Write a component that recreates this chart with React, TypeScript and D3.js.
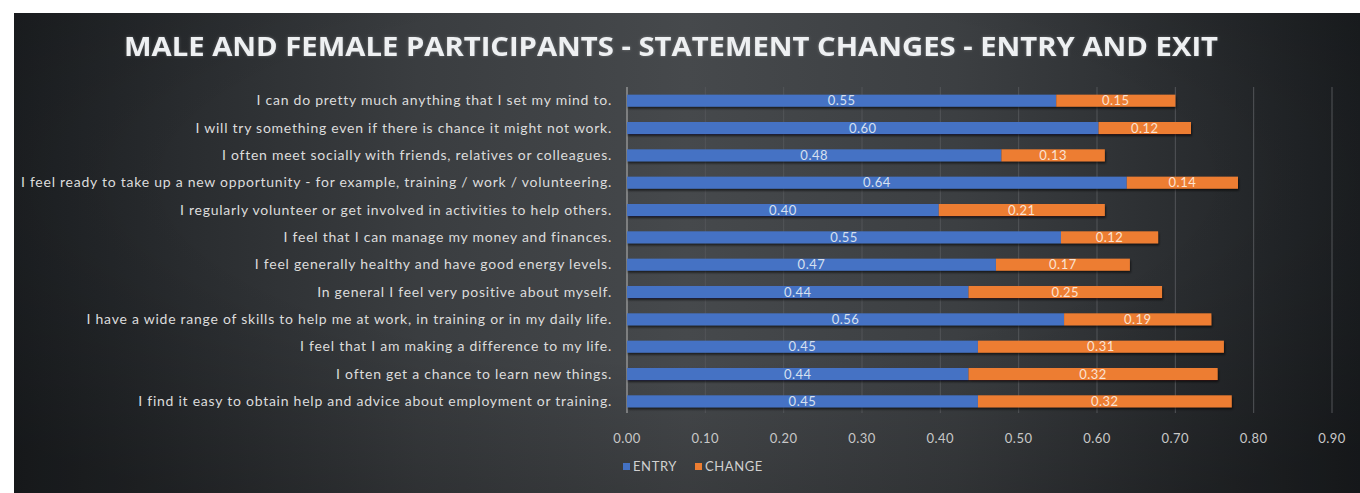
import React from "react";
import * as d3 from "d3";

const TITLE = "MALE AND FEMALE PARTICIPANTS - STATEMENT CHANGES - ENTRY AND EXIT";

const categories = [
  "I can do pretty much anything that I set my mind to.",
  "I will try something even if there is chance it might not work.",
  "I often meet socially with friends, relatives or colleagues.",
  "I feel ready to take up a new opportunity - for example, training / work / volunteering.",
  "I regularly volunteer or get involved in activities to help others.",
  "I feel that I can manage my money and finances.",
  "I feel generally healthy and have good energy levels.",
  "In general I feel very positive about myself.",
  "I have a wide range of skills to help me at work, in training or in my daily life.",
  "I feel that I am making a difference to my life.",
  "I often get a chance to learn new things.",
  "I find it easy to obtain help and advice about employment or training.",
];

const entryValues = [0.548, 0.602, 0.478, 0.638, 0.398, 0.554, 0.471, 0.436, 0.558, 0.448, 0.436, 0.448];
const changeValues = [0.152, 0.118, 0.132, 0.142, 0.212, 0.124, 0.171, 0.247, 0.188, 0.314, 0.318, 0.324];

const tickValues = [0, 0.1, 0.2, 0.3, 0.4, 0.5, 0.6, 0.7, 0.8, 0.9];

const seriesNames = ["ENTRY", "CHANGE"];
const seriesColors = ["#4472c4", "#ed7d31"];

export default function App() {
  const W = 1360;
  const H = 493;
  const x = d3.scaleLinear().domain([0, 0.9]).range([627, 1332]);
  const y = d3
    .scaleBand<string>()
    .domain(categories)
    .range([87, 415])
    .paddingInner(0.56)
    .paddingOuter(0.28);
  const fmt = d3.format(".2f");
  const bh = y.bandwidth();
  const labelFont = "Lato, 'Open Sans', sans-serif";

  return (
    <svg
      width={W}
      height={H}
      style={{ position: "absolute", left: 0, top: 0, background: "#ffffff" }}
    >
      <defs>
        <linearGradient id="bg" x1="0" y1="0" x2="1" y2="0">
          <stop offset="0" stopColor="#1d2023" />
          <stop offset="0.3" stopColor="#3a3d40" />
          <stop offset="0.5" stopColor="#46494c" />
          <stop offset="0.7" stopColor="#3c3f42" />
          <stop offset="1" stopColor="#1c1f22" />
        </linearGradient>
        <radialGradient id="vig" cx="0.5" cy="0.35" r="0.75">
          <stop offset="0.5" stopColor="#000" stopOpacity="0" />
          <stop offset="1" stopColor="#000" stopOpacity="0.25" />
        </radialGradient>
        <filter id="shadow" x="-5%" y="-50%" width="110%" height="200%">
          <feDropShadow dx="1" dy="2" stdDeviation="1" floodColor="#000" floodOpacity="0.6" />
        </filter>
        <filter id="glow" x="-5%" y="-50%" width="110%" height="200%">
          <feDropShadow dx="0" dy="0" stdDeviation="1.5" floodColor="#ffffff" floodOpacity="0.25" />
        </filter>
      </defs>
      <rect x={14} y={13} width={W - 14} height={H - 13} fill="url(#bg)" />
      <rect x={14} y={13} width={W - 14} height={H - 13} fill="url(#vig)" />

      <text
        x={671}
        y={56}
        textAnchor="middle"
        fill="#eef0f2"
        fontFamily="'Open Sans', sans-serif"
        fontWeight={700}
        fontSize={26}
        textLength={1094}
        lengthAdjust="spacingAndGlyphs"
        filter="url(#glow)"
      >
        {TITLE}
      </text>

      {/* gridlines */}
      {tickValues.map((t) => (
        <line
          key={"g" + t}
          x1={x(t)}
          x2={x(t)}
          y1={87}
          y2={413}
          stroke={t === 0 ? "#b8b8b8" : "#525558"}
          strokeWidth={1}
        />
      ))}

      {/* tick labels */}
      {tickValues.map((t) => (
        <text
          key={"t" + t}
          x={x(t)}
          y={443}
          textAnchor="middle"
          fill="#c8c8c8"
          fontFamily={labelFont}
          fontSize={13}
          letterSpacing={0.5}
        >
          {fmt(t)}
        </text>
      ))}

      {/* category labels */}
      {categories.map((c) => (
        <text
          key={"c" + c}
          x={612}
          y={(y(c) as number) + bh / 2 + 4.5}
          textAnchor="end"
          fill="#dcdcdc"
          fontFamily={labelFont}
          fontSize={14}
          letterSpacing={0.75}
        >
          {c}
        </text>
      ))}

      {/* bars */}
      {categories.map((c, i) => {
        const yy = y(c) as number;
        const e = entryValues[i];
        const ch = changeValues[i];
        return (
          <g key={"b" + c} filter="url(#shadow)">
            <rect x={x(0)} y={yy} width={x(e) - x(0)} height={bh} fill={seriesColors[0]} />
            <rect x={x(e)} y={yy} width={x(e + ch) - x(e)} height={bh} fill={seriesColors[1]} />
          </g>
        );
      })}

      {/* value labels */}
      {categories.map((c, i) => {
        const yy = (y(c) as number) + bh / 2 + 4.5;
        const e = entryValues[i];
        const ch = changeValues[i];
        return (
          <g key={"v" + c} fontFamily={labelFont} fontSize={13} letterSpacing={0.5} textAnchor="middle">
            <text x={x(e / 2)} y={yy} fill="#d6e0f0">
              {fmt(e)}
            </text>
            <text x={x(e + ch / 2)} y={yy} fill="#fbe3d2">
              {fmt(ch)}
            </text>
          </g>
        );
      })}

      {/* legend */}
      {seriesNames.map((s, i) => {
        const lx = i === 0 ? 623 : 695;
        return (
          <g key={"l" + s}>
            <rect x={lx} y={463} width={7} height={7} fill={seriesColors[i]} />
            <text
              x={lx + 10}
              y={471}
              fill="#d0d0d0"
              fontFamily={labelFont}
              fontSize={13}
              letterSpacing={0.6}
            >
              {s}
            </text>
          </g>
        );
      })}
    </svg>
  );
}
